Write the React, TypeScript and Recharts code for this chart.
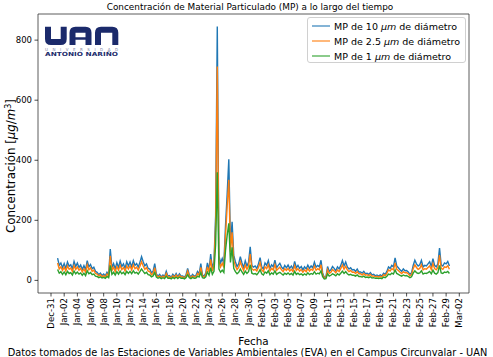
import { LineChart, Line, XAxis, YAxis, ReferenceArea } from "recharts";

// 6-hour samples starting Jan 1 2024 00:00 (x = days since Jan 1)
const STEP = 0.25;

const pm10 = [
  74, 50, 58, 42, 56, 40, 61, 47, 52, 38, 63, 46, 58, 43, 51, 36, 49, 35, 66, 45,
  53, 39, 44, 30, 27, 19, 24, 16, 21, 15, 27, 18, 104, 42, 56, 38, 59, 43, 64, 46,
  55, 40, 62, 48, 61, 45, 66, 50, 56, 44, 60, 79, 62, 48, 55, 40, 38, 25, 30, 56,
  22, 14, 20, 12, 18, 12, 30, 14, 16, 10, 20, 13, 23, 12, 22, 14, 15, 10, 18, 40,
  18, 12, 20, 14, 16, 30, 22, 56, 18, 14, 24, 58, 35, 88, 40, 62, 215, 845, 82, 58,
  73, 55, 182, 287, 403, 120, 195, 84, 62, 46, 55, 79, 58, 42, 65, 48, 60, 112, 50, 44,
  48, 40, 55, 76, 45, 38, 58, 50, 66, 40, 52, 45, 67, 42, 50, 57, 45, 38, 50, 42,
  51, 40, 48, 38, 63, 42, 50, 40, 46, 35, 45, 38, 51, 40, 48, 42, 61, 44, 50, 45,
  67, 25, 10, 12, 46, 30, 35, 46, 40, 32, 45, 38, 50, 66, 48, 61, 45, 38, 42, 35,
  36, 30, 38, 28, 28, 24, 30, 22, 24, 20, 26, 18, 20, 15, 18, 14, 18, 14, 24, 20,
  30, 45, 40, 50, 45, 75, 48, 42, 35, 30, 38, 32, 33, 28, 20, 25, 50, 67, 55, 48,
  52, 67, 45, 50, 48, 55, 62, 46, 72, 50, 45, 55, 108, 52, 48, 58, 55, 63, 48,
];

const pm25 = [
  58, 38, 45, 33, 44, 31, 48, 37, 41, 30, 49, 36, 45, 34, 40, 28, 38, 27, 52, 35,
  42, 30, 34, 23, 21, 15, 19, 12, 16, 11, 21, 14, 82, 33, 44, 29, 46, 34, 50, 36,
  43, 31, 48, 38, 48, 35, 52, 39, 44, 34, 47, 62, 48, 37, 43, 31, 29, 19, 23, 42,
  17, 11, 15, 9, 14, 9, 23, 11, 12, 8, 15, 10, 18, 9, 17, 11, 12, 8, 14, 31,
  14, 9, 15, 11, 12, 23, 17, 43, 14, 11, 19, 45, 27, 70, 31, 49, 185, 712, 64, 45,
  57, 43, 150, 245, 335, 95, 160, 66, 48, 36, 43, 62, 45, 33, 51, 37, 47, 88, 39, 34,
  37, 31, 43, 59, 35, 29, 45, 39, 52, 31, 40, 35, 52, 33, 39, 44, 35, 29, 39, 33,
  40, 31, 37, 29, 49, 33, 39, 31, 36, 27, 35, 29, 40, 31, 37, 33, 48, 34, 39, 35,
  52, 19, 8, 9, 36, 23, 27, 36, 31, 25, 35, 29, 39, 51, 37, 47, 35, 29, 33, 27,
  28, 23, 29, 22, 22, 18, 23, 17, 19, 15, 20, 14, 15, 12, 14, 11, 14, 11, 19, 15,
  23, 35, 31, 39, 35, 58, 37, 33, 27, 23, 29, 25, 26, 22, 15, 19, 39, 52, 43, 37,
  40, 52, 35, 39, 37, 43, 48, 36, 56, 39, 35, 43, 84, 40, 37, 45, 43, 49, 37,
];

const pm1 = [
  36, 24, 29, 20, 28, 19, 30, 23, 26, 18, 31, 22, 28, 21, 25, 17, 24, 16, 32, 22,
  26, 19, 21, 14, 13, 9, 12, 8, 10, 7, 13, 9, 50, 20, 27, 18, 29, 21, 31, 22,
  27, 19, 30, 23, 30, 22, 32, 24, 27, 21, 29, 38, 30, 23, 27, 19, 18, 12, 15, 26,
  11, 7, 10, 6, 9, 6, 14, 7, 8, 5, 10, 6, 11, 6, 11, 7, 8, 5, 9, 19,
  9, 6, 10, 7, 8, 14, 11, 26, 9, 7, 12, 28, 17, 42, 20, 30, 120, 360, 38, 27,
  34, 26, 100, 150, 190, 60, 110, 40, 29, 22, 27, 38, 28, 20, 31, 23, 29, 52, 24, 21,
  23, 19, 26, 36, 22, 18, 28, 24, 32, 19, 25, 21, 32, 20, 24, 27, 22, 18, 24, 20,
  25, 19, 23, 18, 30, 20, 24, 19, 22, 17, 22, 18, 25, 19, 23, 20, 29, 21, 24, 22,
  32, 12, 5, 6, 22, 14, 17, 22, 19, 15, 22, 18, 24, 31, 23, 29, 22, 18, 20, 17,
  17, 14, 18, 13, 13, 11, 14, 10, 11, 9, 12, 8, 9, 7, 8, 6, 8, 6, 11, 9,
  14, 21, 19, 24, 21, 35, 23, 20, 17, 14, 18, 15, 16, 13, 9, 12, 24, 32, 26, 23,
  25, 32, 21, 24, 23, 26, 30, 22, 34, 24, 21, 26, 50, 25, 23, 28, 26, 30, 23,
];

// one label every two days, first one on Dec 31 (x = -1)
const tickLabels = [
  "Dec-31", "Jan-02", "Jan-04", "Jan-06", "Jan-08", "Jan-10", "Jan-12", "Jan-14",
  "Jan-16", "Jan-18", "Jan-20", "Jan-22", "Jan-24", "Jan-26", "Jan-28", "Jan-30",
  "Feb-01", "Feb-03", "Feb-05", "Feb-07", "Feb-09", "Feb-11", "Feb-13", "Feb-15",
  "Feb-17", "Feb-19", "Feb-21", "Feb-23", "Feb-25", "Feb-27", "Feb-29", "Mar-02",
];
const xTicks = tickLabels.map((_, i) => -1 + 2 * i);
const yTicks = [0, 200, 400, 600, 800];

const X_DOMAIN: [number, number] = [-2.975, 62.475];
const Y_DOMAIN: [number, number] = [-42, 887];

const COLORS = { pm10: "#1f77b4", pm25: "#ff7f0e", pm1: "#2ca02c" };

const data = pm10.map((v, i) => ({
  t: i * STEP,
  pm10: v,
  pm25: pm25[i],
  pm1: pm1[i],
}));

const legendItems = [
  { color: COLORS.pm10, size: "10" },
  { color: COLORS.pm25, size: "2.5" },
  { color: COLORS.pm1, size: "1" },
];

function DateTick({ x, y, payload }: any) {
  const idx = xTicks.indexOf(payload.value);
  return (
    <text
      transform={`translate(${x},${y}) rotate(-90)`}
      textAnchor="end"
      dy="0.35em"
      fontSize={8.6}
      fill="#000"
    >
      {tickLabels[idx]}
    </text>
  );
}

function Logo() {
  const navy = "#1b2a6b";
  return (
    <g>
      <path d="M48 26.7 V39 Q48 42 51 42 H60.7 Q63.7 42 63.7 39 V26.7" stroke={navy} strokeWidth={6} fill="none" />
      <path d="M72.5 45 V32.7 Q72.5 29.7 75.5 29.7 H85.5 Q88.5 29.7 88.5 32.7 V45" stroke={navy} strokeWidth={6} fill="none" />
      <path d="M74 38.5 H87" stroke={navy} strokeWidth={2.5} />
      <path d="M98 45 V32.7 Q98 29.7 101 29.7 H112.3 Q115.3 29.7 115.3 32.7 V45" stroke={navy} strokeWidth={6} fill="none" />
      <text x={45} y={50.5} fontSize={4} fill="#7d86a8" textLength={73} lengthAdjust="spacing">
        UNIVERSIDAD
      </text>
      <text x={45} y={56} fontSize={5.6} fontWeight="bold" fill={navy} textLength={73} lengthAdjust="spacingAndGlyphs">
        ANTONIO NARIÑO
      </text>
    </g>
  );
}

export default function App() {
  return (
    <div
      style={{
        position: "absolute",
        left: 0,
        top: 0,
        width: 493,
        height: 357,
        background: "#fff",
        fontFamily: "DejaVu Sans, sans-serif",
      }}
    >
      <LineChart width={493} height={357} data={data} margin={{ top: 14, right: 24, left: 0, bottom: 0 }}>
        <XAxis
          dataKey="t"
          type="number"
          domain={X_DOMAIN}
          ticks={xTicks}
          interval={0}
          height={64}
          axisLine={false}
          tickSize={3.5}
          tickMargin={1.5}
          tickLine={{ stroke: "#000", strokeWidth: 0.7 }}
          tick={<DateTick />}
          allowDataOverflow
        />
        <YAxis
          type="number"
          domain={Y_DOMAIN}
          ticks={yTicks}
          width={38}
          axisLine={false}
          tickSize={3.5}
          tickMargin={2.5}
          tickLine={{ stroke: "#000", strokeWidth: 0.7 }}
          tick={{ fontSize: 8.5, fill: "#000" }}
          allowDataOverflow
        />
        <Line dataKey="pm10" stroke={COLORS.pm10} strokeWidth={1.4} dot={false} activeDot={false} isAnimationActive={false} />
        <Line dataKey="pm25" stroke={COLORS.pm25} strokeWidth={1.4} dot={false} activeDot={false} isAnimationActive={false} />
        <Line dataKey="pm1" stroke={COLORS.pm1} strokeWidth={1.4} dot={false} activeDot={false} isAnimationActive={false} />
        <ReferenceArea
          x1={X_DOMAIN[0]}
          x2={X_DOMAIN[1]}
          y1={Y_DOMAIN[0]}
          y2={Y_DOMAIN[1]}
          fill="none"
          fillOpacity={0}
          stroke="#333"
          strokeWidth={0.8}
          ifOverflow="visible"
        />
      </LineChart>

      <svg width={493} height={357} style={{ position: "absolute", left: 0, top: 0, pointerEvents: "none" }}>
        <text x={250} y={10} textAnchor="middle" fontSize={8.9} fill="#000">
          Concentración de Material Particulado (MP) a lo largo del tiempo
        </text>
        <text x={253.5} y={344.5} textAnchor="middle" fontSize={10.4} fill="#000">
          Fecha
        </text>
        <text x={247.5} y={355.5} textAnchor="middle" fontSize={9.8} fill="#000">
          Datos tomados de las Estaciones de Variables Ambientales (EVA) en el Campus Circunvalar - UAN
        </text>
        <text transform="translate(14.5,166) rotate(-90)" textAnchor="middle" fontSize={11.8} fill="#000">
          Concentración [<tspan fontStyle="italic">μg</tspan>/<tspan fontStyle="italic">m</tspan>
          <tspan dy={-4} fontSize={8}>3</tspan>
          <tspan dy={4}>]</tspan>
        </text>
        <Logo />
      </svg>

      <div
        style={{
          position: "absolute",
          left: 307,
          top: 17,
          width: 159,
          height: 46,
          border: "1px solid #d0d0d0",
          borderRadius: 3,
          background: "rgba(255,255,255,0.8)",
          boxSizing: "border-box",
        }}
      >
        {legendItems.map((item, i) => (
          <div
            key={item.size}
            style={{
              position: "absolute",
              left: 4,
              top: 2 + i * 15,
              height: 12,
              display: "flex",
              alignItems: "center",
              whiteSpace: "nowrap",
              fontSize: 9.5,
              color: "#000",
            }}
          >
            <svg width={18} height={12}>
              <line x1={0} x2={18} y1={6} y2={6} stroke={item.color} strokeWidth={1.1} />
            </svg>
            <span style={{ marginLeft: 4 }}>
              MP de {item.size} <i>μm</i> de diámetro
            </span>
          </div>
        ))}
      </div>
    </div>
  );
}
